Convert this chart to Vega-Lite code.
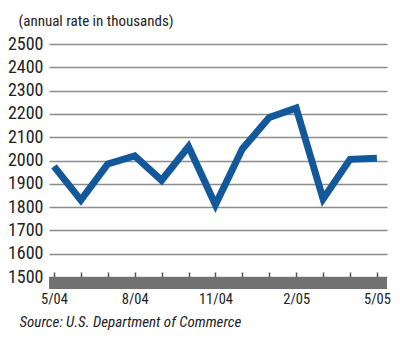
{
  "$schema": "https://vega.github.io/schema/vega-lite/v6.json",
  "width": 338,
  "height": 233,
  "autosize": {"type": "none"},
  "padding": {"left": 49, "top": 44, "right": 13, "bottom": 62},
  "background": "white",
  "config": {
    "view": {"stroke": null},
    "font": "Roboto Condensed, Liberation Sans Narrow, Arial Narrow, Roboto, sans-serif",
    "axisY": {
      "domain": false,
      "ticks": false,
      "grid": true,
      "gridColor": "#8c8c8c",
      "gridWidth": 1.5,
      "labelFontSize": 18,
      "labelColor": "#222222",
      "labelPadding": 6,
      "labelOverlap": false,
      "format": "d",
      "titleAngle": 0,
      "titleAlign": "left",
      "titleBaseline": "middle",
      "titleFontWeight": "normal",
      "titleFontSize": 15,
      "titleColor": "#222222",
      "titleX": -31,
      "titleY": -24
    }
  },
  "data": {
    "values": [
      {"month": "5/04", "starts": 1975},
      {"month": "6/04", "starts": 1830},
      {"month": "7/04", "starts": 1985},
      {"month": "8/04", "starts": 2020},
      {"month": "9/04", "starts": 1915},
      {"month": "10/04", "starts": 2060},
      {"month": "11/04", "starts": 1810},
      {"month": "12/04", "starts": 2050},
      {"month": "1/05", "starts": 2185},
      {"month": "2/05", "starts": 2225},
      {"month": "3/05", "starts": 1835},
      {"month": "4/05", "starts": 2005},
      {"month": "5/05", "starts": 2010}
    ]
  },
  "layer": [
    {
      "mark": {"type": "rect", "color": "#717171"},
      "encoding": {
        "y": {
          "datum": 1449,
          "type": "quantitative",
          "axis": {
            "values": [1500, 1600, 1700, 1800, 1900, 2000, 2100, 2200, 2300, 2400, 2500],
            "title": "(annual rate in thousands)"
          }
        },
        "y2": {"datum": 1500}
      }
    },
    {
      "mark": {"type": "line", "color": "#12589a", "strokeWidth": 7, "strokeJoin": "miter", "strokeCap": "butt"},
      "encoding": {
        "x": {
          "field": "month",
          "type": "ordinal",
          "sort": null,
          "scale": {"type": "point", "padding": 0.28, "align": 0.33},
          "axis": {
            "labelExpr": "indexof(['5/04','8/04','11/04','2/05','5/05'], datum.value) >= 0 ? datum.value : ''",
            "labelAngle": 0,
            "labelFontSize": 14.5,
            "labelColor": "#222222",
            "labelPadding": 20,
            "labelBaseline": "top",
            "ticks": true,
            "tickSize": -5,
            "tickColor": "#555555",
            "tickWidth": 1.5,
            "domain": false,
            "title": "Source:  U.S. Department of Commerce",
            "titleFontStyle": "italic",
            "titleFontWeight": "normal",
            "titleFontSize": 15,
            "titleColor": "#222222",
            "titleAlign": "left",
            "titleBaseline": "middle",
            "titleAnchor": "start",
            "titleX": -30,
            "titleY": 44
          }
        },
        "y": {
          "field": "starts",
          "type": "quantitative",
          "scale": {"domain": [1500, 2500], "zero": false, "nice": false},
          "axis": {
            "values": [1500, 1600, 1700, 1800, 1900, 2000, 2100, 2200, 2300, 2400, 2500],
            "title": "(annual rate in thousands)"
          }
        }
      }
    }
  ]
}
